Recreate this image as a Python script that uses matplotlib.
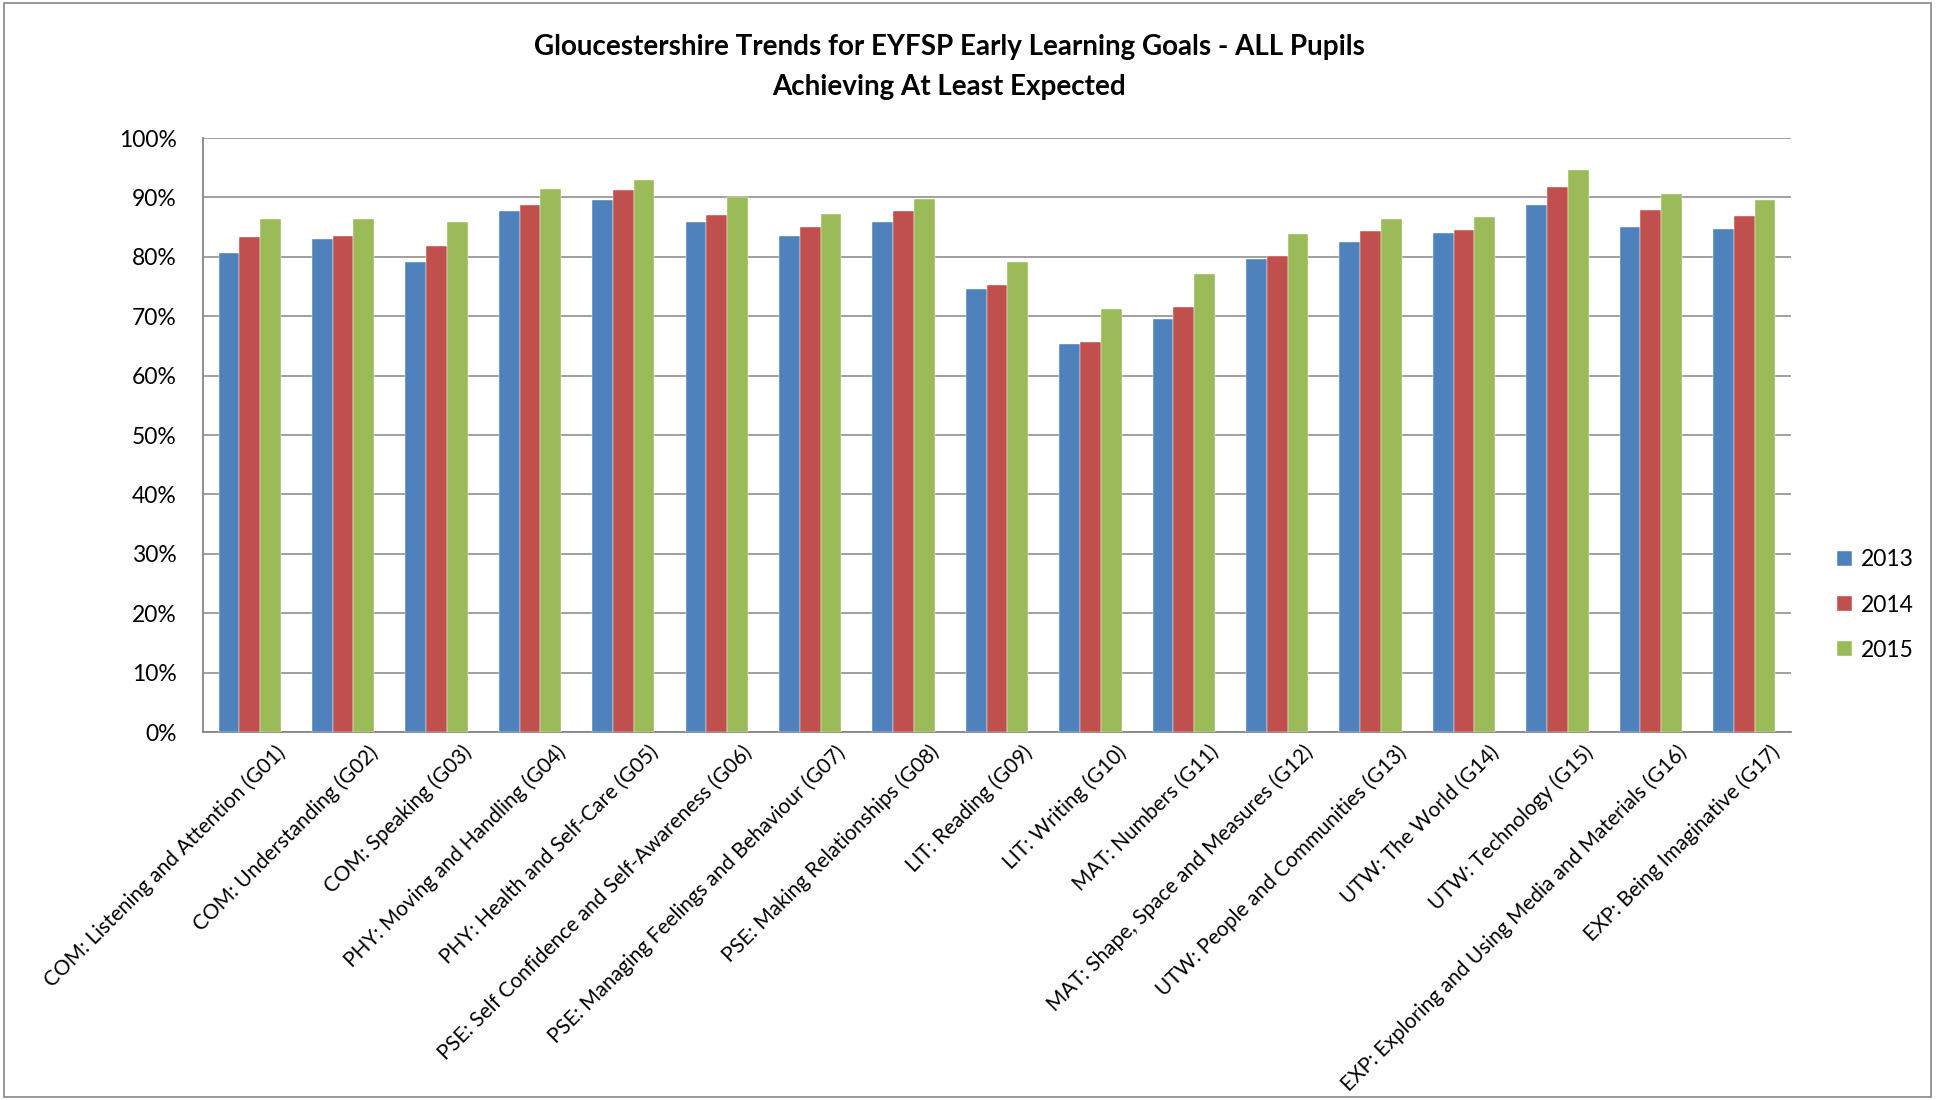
"""
EYFSP early learning goals - grouped bar chart
"""

import numpy as np
from matplotlib import pyplot as plt
from matplotlib.patches import Rectangle
from matplotlib.transforms import ScaledTranslation

goals = [
    'COM: Listening and Attention (G01)',
    'COM: Understanding (G02)',
    'COM: Speaking (G03)',
    'PHY: Moving and Handling (G04)',
    'PHY: Health and Self-Care (G05)',
    'PSE: Self Confidence and Self-Awareness (G06)',
    'PSE: Managing Feelings and Behaviour (G07)',
    'PSE: Making Relationships (G08)',
    'LIT: Reading (G09)',
    'LIT: Writing (G10)',
    'MAT: Numbers (G11)',
    'MAT: Shape, Space and Measures (G12)',
    'UTW: People and Communities (G13)',
    'UTW: The World (G14)',
    'UTW: Technology (G15)',
    'EXP: Exploring and Using Media and Materials (G16)',
    'EXP: Being Imaginative (G17)',
]

years = ['2013', '2014', '2015']

# percentages
pct_2013 = [80.7, 83.0, 79.1, 87.8, 89.5, 85.9, 83.5, 85.9, 74.6, 65.4, 69.5,
            79.6, 82.5, 84.0, 88.8, 85.0, 84.7]
pct_2014 = [83.3, 83.5, 81.9, 88.8, 91.2, 87.0, 85.1, 87.8, 75.3, 65.7, 71.6,
            80.1, 84.3, 84.5, 91.7, 87.9, 86.8]
pct_2015 = [86.4, 86.3, 85.8, 91.5, 92.9, 90.1, 87.2, 89.8, 79.2, 71.3, 77.1,
            83.9, 86.3, 86.7, 94.6, 90.6, 89.5]

colours = ['#4F81BD', '#C0504D', '#9BBB59']
FONT = 'Lato'

plt.rcParams['font.family'] = [FONT, 'DejaVu Sans']

fig = plt.figure(figsize=(19.37, 11), dpi=100)
ax = fig.add_axes([0.1048, 0.3345, 0.8198, 0.54])

x = np.arange(len(goals))
width = 1 / 4.5
for i, (vals, label) in enumerate(zip([pct_2013, pct_2014, pct_2015], years)):
    ax.bar(x + (i - 1) * width, vals, width, color=colours[i], label=label,
           edgecolor='white', linewidth=0.3, zorder=3)

ax.set_xlim(-0.5, len(goals) - 0.5)
ax.set_ylim(0, 100)
ax.set_yticks(np.arange(0, 101, 10))
ax.set_yticklabels(['%d%%' % v for v in range(0, 101, 10)], fontsize=16.5)
ax.yaxis.grid(True, color='#868686', linewidth=1.1, zorder=0)
ax.tick_params(axis='y', length=0, pad=19)
ax.tick_params(axis='x', length=0, pad=7)

ax.set_xticks(x)
ax.set_xticklabels(goals, rotation=45, ha='right', va='top',
                   rotation_mode='anchor', fontsize=15)
# nudge the rotated labels to the right like excel does
shift = ScaledTranslation(18 / 72, 0, fig.dpi_scale_trans)
for lbl in ax.get_xticklabels():
    lbl.set_transform(lbl.get_transform() + shift)

for side in ['top', 'right']:
    ax.spines[side].set_visible(False)
for side in ['left', 'bottom']:
    ax.spines[side].set_color('#868686')
    ax.spines[side].set_linewidth(1.3)

fig.text(0.49, 0.957, 'Gloucestershire Trends for EYFSP Early Learning Goals - ALL Pupils',
         ha='center', va='center', fontsize=20, fontweight='bold')
fig.text(0.49, 0.921, 'Achieving At Least Expected',
         ha='center', va='center', fontsize=20, fontweight='bold')

fig.legend(loc='center left', bbox_to_anchor=(1826 / 1937, 0.45), frameon=False,
           fontsize=16.5, handlelength=0.65, handleheight=0.65,
           handletextpad=0.35, labelspacing=1.05, borderpad=0)

# outer chart border
fig.add_artist(Rectangle((0.002, 0.003), 0.995, 0.994, transform=fig.transFigure,
                         fill=False, edgecolor='#868686', linewidth=1.2))

fig.savefig('out.png', dpi=100)
